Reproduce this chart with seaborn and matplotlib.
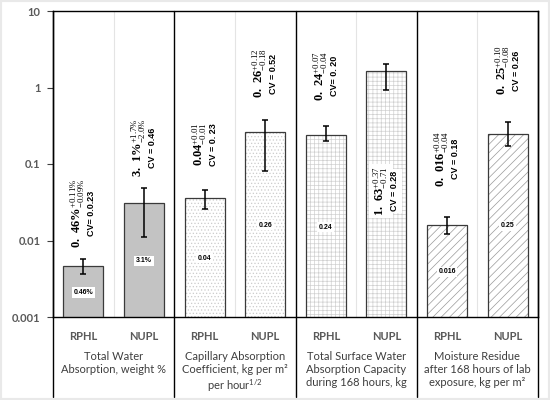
import matplotlib
matplotlib.use("Agg")
import matplotlib.pyplot as plt
import matplotlib.ticker as mticker
from matplotlib.patches import Rectangle
import pandas as pd
import seaborn as sns

# ---- data ----
GROUPS = [
    "Total Water\nAbsorption, weight %",
    "Capillary Absorption\nCoefficient, kg per m²\nper hour$^{\\mathsf{1/2}}$",
    "Total Surface Water\nAbsorption Capacity\nduring 168 hours, kg",
    "Moisture Residue\nafter 168 hours of lab\nexposure, kg per m²",
]
MATERIALS = ["RPHL", "NUPL"]

values = [0.0046, 0.031, 0.036, 0.26, 0.24, 1.63, 0.016, 0.25]
err_plus = [0.0011, 0.017, 0.010, 0.12, 0.07, 0.37, 0.004, 0.10]
err_minus = [0.0009, 0.020, 0.010, 0.18, 0.04, 0.71, 0.004, 0.08]

num_text = [r"0.\;46\%", r"3.\;1\%", r"0.04", r"0.\;26", r"0.\;24", r"1.\;63", r"0.\;016", r"0.\;25"]
sup_text = [r"+0.11\%", r"+1.7\%", "+0.01", "+0.12", "+0.07", "+0.37", "+0.04", "+0.10"]
sub_text = [r"-0.09\%", r"-2.0\%", "-0.01", "-0.18", "-0.04", "-0.71", "-0.04", "-0.08"]
cv_text = ["CV= 0.0.23", "CV = 0.46", "CV = 0. 23", "CV = 0.52",
           "CV= 0. 20", "CV = 0.28", "CV = 0.18", "CV = 0.26"]
inner_text = ["0.46%", "3.1%", "0.04", "0.26", "0.24", None, "0.016", "0.25"]

# label placement (layout only)
ANNOT_Y = [0.0225, 0.165, 0.18, 1.52, 1.43, 0.044, 0.118, 1.67]
INNER_Y = [0.0021, 0.0054, 0.0059, 0.0159, 0.015, None, 0.0039, 0.0155]

# per-group fill styles: (facecolor, hatch, hatch colour)
STYLES = [
    ("#c3c3c3", None, "#c3c3c3"),
    ("white", ".....", "#cccccc"),
    ("white", "++++", "#d0d0d0"),
    ("white", "////", "#999999"),
]

bar_ids = [f"{g}|{m}" for g in range(len(GROUPS)) for m in MATERIALS]
df = pd.DataFrame({"bar": bar_ids, "value": values})

sns.set_style("white")
plt.rcParams["font.family"] = ["Lato", "DejaVu Sans"]
plt.rcParams["mathtext.fontset"] = "custom"
plt.rcParams["mathtext.rm"] = "Liberation Serif"
plt.rcParams["mathtext.bf"] = "Liberation Serif:bold"
plt.rcParams["mathtext.sf"] = "Lato"
plt.rcParams["hatch.linewidth"] = 0.5

fig = plt.figure(figsize=(5.5, 4), dpi=100)
ax = fig.add_axes([53 / 550, 83 / 400, 485 / 550, 306 / 400])

sns.barplot(data=df, x="bar", y="value", order=bar_ids, width=0.66,
            errorbar=None, ax=ax, zorder=2)
ax.set_yscale("log")
ax.set_ylim(0.001, 10)
ax.set_xlim(-0.5, len(bar_ids) - 0.5)

for i, patch in enumerate(ax.patches):
    face, hatch, hcol = STYLES[i // 2]
    patch.set_facecolor(face)
    patch.set_edgecolor(hcol)
    patch.set_linewidth(0.6)
    if hatch:
        patch.set_hatch(hatch)
    if hasattr(patch, "set_hatchcolor"):
        patch.set_hatchcolor(hcol)
    ax.add_patch(Rectangle(patch.get_xy(), patch.get_width(), patch.get_height(),
                           fill=False, edgecolor="#3a3a3a", linewidth=0.9, zorder=3))

ax.errorbar(range(len(values)), values, yerr=[err_minus, err_plus], fmt="none",
            ecolor="black", elinewidth=1.1, capsize=2.2, capthick=1.1, zorder=4)

# light separators between the two bars of a group
for x in [0.5, 2.5, 4.5, 6.5]:
    ax.axvline(x, color="#e4e4e4", lw=0.8, zorder=0)

# group frame lines running down through the label area
for x in [-0.5, 1.5, 3.5, 5.5, 7.5]:
    ax.plot([x, x], [1, -0.262], color="black", lw=1.0,
            transform=ax.get_xaxis_transform(), clip_on=False, zorder=5)

for s in ax.spines.values():
    s.set_color("black")
    s.set_linewidth(1.0)

# rotated value / CV annotations
for i in range(len(values)):
    first = r"$\mathbf{%s}^{%s}_{%s}$" % (num_text[i], sup_text[i], sub_text[i])
    box = dict(facecolor="white", edgecolor="none", pad=1.5) if inner_text[i] is None else None
    ax.text(i - 0.09, ANNOT_Y[i], first, rotation=90, ha="center", va="center",
            fontsize=9, color="black", zorder=6, bbox=box)
    ax.text(i + 0.14, ANNOT_Y[i], cv_text[i], rotation=90, ha="center", va="center",
            fontsize=6.5, fontweight="bold", family="Liberation Sans",
            color="black", zorder=6, bbox=box)
    if inner_text[i] is not None:
        ax.text(i, INNER_Y[i], inner_text[i], ha="center", va="center", fontsize=5,
                fontweight="bold", family="Liberation Sans", color="black", zorder=6,
                bbox=dict(facecolor="white", edgecolor="none", pad=1.2))

# axes ticks and labels
ax.set_yticks([0.001, 0.01, 0.1, 1, 10])
ax.set_yticklabels(["0.001", "0.01", "0.1", "1", "10"])
ax.yaxis.set_minor_locator(mticker.NullLocator())
ax.tick_params(axis="y", left=True, length=4, width=0.8, color="#404040",
               labelsize=8, labelcolor="#595959", pad=5)
for lab in ax.get_yticklabels():
    lab.set_fontweight("bold")

ax.set_xticks(range(len(bar_ids)))
ax.set_xticklabels(MATERIALS * len(GROUPS))
ax.tick_params(axis="x", bottom=False, length=0, labelsize=8,
               labelcolor="#595959", pad=10)
for lab in ax.get_xticklabels():
    lab.set_fontweight("bold")
ax.set_xlabel("")
ax.set_ylabel("")

for g, name in enumerate(GROUPS):
    ax.text(2 * g + 0.5, -0.112, name, transform=ax.get_xaxis_transform(),
            ha="center", va="top", fontsize=8, color="#3e3e3e", linespacing=1.2)

fig.patches.append(Rectangle((0, 0), 1, 1, transform=fig.transFigure, fill=False,
                             edgecolor="#e9e9e9", linewidth=3))

fig.savefig("out.png", dpi=100)
